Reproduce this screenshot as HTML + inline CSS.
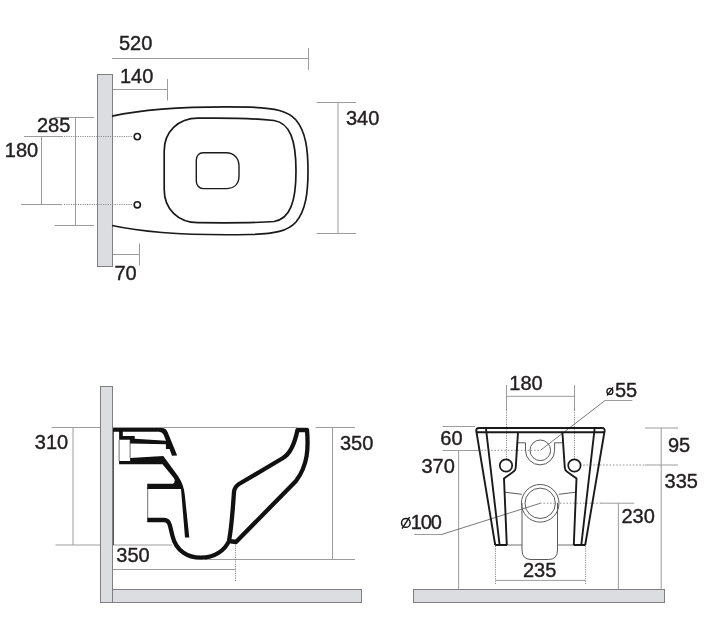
<!DOCTYPE html>
<html><head><meta charset="utf-8">
<style>
html,body{margin:0;padding:0;background:#fff;}
body{width:709px;height:623px;overflow:hidden;}
svg{display:block;will-change:transform;}
text{font-family:"Liberation Sans",sans-serif;font-size:20px;fill:#231f20;stroke:#231f20;stroke-width:0.4;}
.g{stroke:#9c9c9c;stroke-width:1;fill:none;}
.d{stroke:#8f8f8f;stroke-width:1;fill:none;stroke-dasharray:1.2 1.1;}
.d2{stroke:#8f8f8f;stroke-width:1;fill:none;stroke-dasharray:1.5 1.8;}
.k{stroke:#1a1a1a;fill:none;}
.wall{fill:#dcdde0;stroke:#7f7f7f;stroke-width:1;}
</style></head>
<body>
<svg width="709" height="623" viewBox="0 0 709 623">
<!-- ============ PLAN VIEW ============ -->
<g id="plan">
  <!-- dimension lines -->
  <path class="g" d="M112,58.5H308.5M308.5,48V70"/>
  <path class="g" d="M112,89.5H167.5M167.5,79V100.5"/>
  <path class="g" d="M54,117.5H94M54.5,225.5H94M75.5,117.5V225.5"/>
  <path class="g" d="M24,136.5H63M21,204.5H62M41.5,136.5V204.5"/>
    <path class="g" d="M316.5,102.5H356M316.5,233.5H356M338,102.5V233.5"/>
  <path class="g" d="M112.5,254.5H139.5M139.5,243.5V265.5"/>
  <rect class="wall" x="97.5" y="74.5" width="15" height="192"/>
  <path class="d" d="M64,136.5H133M64,204.5H133"/>
  <!-- toilet outline -->
  <path class="k" stroke-width="1.7" d="M112,116.2 C150,108 200,106.2 250,107.2 C275,108 288,111 296,120 C306,132 308,150 308,171 C308,192 306,210 296,222 C288,231 275,234 250,234.5 C200,235.5 150,233.7 112,225.5"/>
  <path class="k" stroke-width="1.7" d="M198,118.2 C225,117.8 255,118.5 274,120.5 C290,123 296,140 296,171 C296,202 290,219 274,221.5 C255,223.2 225,223 198,222.7 C178,222.7 164.2,209 164.2,189.5 L164.2,151 C164.2,132 178,118.2 198,118.2 Z"/>
  <path class="k" stroke-width="1.4" d="M203,152.8 L226,152.8 C234,152.8 239,158 239,166 L239,176 C239,184 234,188.6 226,188.6 L203,188.6 C199,188.6 196.3,185 196.3,181 L196.3,160 C196.3,156 199,152.8 203,152.8 Z"/>
  <circle class="k" stroke-width="1.6" cx="137.3" cy="136.6" r="3.1"/>
  <circle class="k" stroke-width="1.6" cx="137.3" cy="204.8" r="3.1"/>
  <text x="119" y="49.6">520</text>
  <text x="120" y="83.3">140</text>
  <text x="37" y="132.3">285</text>
  <text x="4.8" y="156.9">180</text>
  <text x="346" y="124.5">340</text>
  <text x="114.5" y="280.4">70</text>
</g>

<!-- ============ SIDE VIEW ============ -->
<g id="side">
  <path class="g" d="M51.5,427.5H100M113,427.5H297M315.5,427.5H355"/>
  <path class="g" d="M55.5,545H100M113,545H172"/>
  <path class="g" d="M73,427.5V545"/>
  <path class="g" d="M332.5,427.5V559.5M205,559.5H355"/>
  <path class="g" d="M113,569.5H235.5"/>
  <path class="d" d="M235.5,543V581"/>
  <rect class="wall" x="100.5" y="386.5" width="12" height="216"/>
  <rect class="wall" x="112.5" y="589.5" width="249" height="13"/>
  <path stroke="#555" stroke-width="1" d="M113.5,430V545"/>
  <!-- inlet/outlet white rects -->
  <path class="g" style="stroke:#707070" d="M119.1,440V461M130.1,440V458"/>
  <path class="g" style="stroke:#707070" d="M147.7,488V518"/>
  <!-- black shapes -->
  <path fill="#111" fill-rule="evenodd" d="M113,428.1 H161.8 Q166,428.1 167.8,432.5 L177.2,455.4 L172,455.8 L169.5,449 H165.9 V444.3 L130.1,443.4 V439.8 H119.1 V431.7 H113 Z M122.8,431.7 H159 Q162,431.7 163.5,434.5 L166,440.7 L134.7,438.8 V436.1 H122.8 Z"/>
  <path fill="#111" d="M119.1,460.9 H130.1 V457.9 L163.3,456.1 L178,476 Q184,485 184.8,495 L189.3,537.5 H185 L181,489 H147.2 V483.8 H173 Q176,481.5 173.8,477.9 L162.5,464.2 H119.1 Z"/>
  <path class="k" style="stroke:#111" stroke-width="4.3" stroke-linejoin="round" d="M147.2,520 H164 Q168.5,520 169.8,525 L172.5,536 C176,551 188,557.7 200.6,557.7 C215,557.7 225,550 229,541 C232,525 233,505 234,492 Q234.5,487 239,484 L283,458 Q293,452 297.5,430 H307 C308.5,448 308,465 296,481 L236,542 L229,541"/>
  <text x="34.8" y="448.7">310</text>
  <text x="340" y="450.4">350</text>
  <text x="116.3" y="561.5">350</text>
</g>

<!-- ============ FRONT VIEW ============ -->
<g id="front">
  <path class="g" d="M506.5,385V410M574.5,385V410M506.5,396.3H574.5"/>
  <path class="d" d="M506.5,410V459M574.5,410V459"/>
  <path class="g" d="M605,400.5H632.3"/><path class="g" style="stroke:#6a6a6a;stroke-width:0.9" d="M540.5,450.3L605,400.5"/>
  <path class="g" d="M442.5,426.5H475"/>
  <path class="g" d="M442.5,450.5H478"/>
  <path class="d2" d="M478,450.3H540"/>
  <path class="g" d="M458.6,450.5V589.5"/>
  <path class="d2" d="M580,465H645"/>
  <path class="g" d="M645,428H678M645,465H678M661.2,428V589.5"/>
  <path class="d2" d="M540.2,503.2H601"/>
  <path class="g" d="M601,503.2H634.3M618.4,503.2V589.5"/>
  <path class="g" style="stroke:#6a6a6a;stroke-width:0.9" d="M540.2,503.3L441,534.7"/><path class="g" d="M441,534.5H414.3"/>
  <path class="d" d="M495.5,546V585M585.6,546V585"/>
  <path class="g" d="M495.5,580.4H585.6"/>
  <rect class="wall" x="413.5" y="589.5" width="251" height="13"/>
  <!-- inner grey details -->
  <path class="g" style="stroke:#5a5a5a" d="M518,442.8H525.5V450.3A14.55,14.55 0 0 0 554.6,450.3V442.8H562"/>
  <circle class="g" style="stroke:#5a5a5a" cx="540.3" cy="450.3" r="10.3"/>
  <path class="g" style="stroke:#707070" d="M507,545H522M558,545H573"/>
  <path class="g" style="stroke:#5a5a5a" d="M504.8,492.2L521.8,494.3M575.8,492.2L558.8,494.3"/>
  <path class="g" style="stroke:#5a5a5a" d="M522,503V550Q522,559.5 531,559.5H548.5Q557.5,559.5 557.5,550V503"/>
  <circle fill="#fff" class="g" style="stroke:#5a5a5a" cx="540.2" cy="503.3" r="18.8"/>
  <circle class="g" style="stroke:#5a5a5a" cx="540.2" cy="503.3" r="15.2"/>
  <!-- black outline -->
  <path class="k" stroke-width="1.9" stroke-linejoin="round" d="M495.2,545L476.3,431Q476,428 479,428H602Q605,428 604.6,431L585.2,545"/>
  <path class="k" stroke-width="1.9" d="M477,432.3H604"/>
  <path class="k" stroke-width="1.9" d="M485.9,428L499.6,545M594.7,428L581.3,545"/>
  <path class="k" stroke-width="1.9" d="M518,432.3L515.7,468Q515.5,470.5 513,472L504,478.5L506.8,545"/>
  <path class="k" stroke-width="1.9" d="M562.4,432.3L564.8,468Q565,470.5 567.5,472L576.5,478.5L573.8,545"/>
  <path class="k" stroke-width="1.9" d="M495.2,545H507M573.5,545H585.5"/>
  <circle class="k" stroke-width="1.7" cx="506" cy="465.5" r="6.2"/>
  <circle class="k" stroke-width="1.7" cx="574.4" cy="465.5" r="6.2"/>
  <text x="509.3" y="389.7">180</text>
  <g class="k" stroke-width="1.3"><circle cx="609.9" cy="391.45" r="3"/><path d="M607,395.5L613,387.3"/></g>
  <text x="615" y="397">55</text>
  <text x="440.3" y="444.7">60</text>
  <text x="421.4" y="473.3">370</text>
  <g class="k" stroke-width="1.5"><ellipse cx="405.85" cy="522.9" rx="4.3" ry="4.35"/><path d="M402.1,528.7L409.6,517.1"/></g>
  <text x="410.8" y="529.3" textLength="31">100</text>
  <text x="668" y="452.4">95</text>
  <text x="664.6" y="487.5">335</text>
  <text x="621.5" y="522.7">230</text>
  <text x="523" y="576.8">235</text>
</g>
</svg>
</body></html>
